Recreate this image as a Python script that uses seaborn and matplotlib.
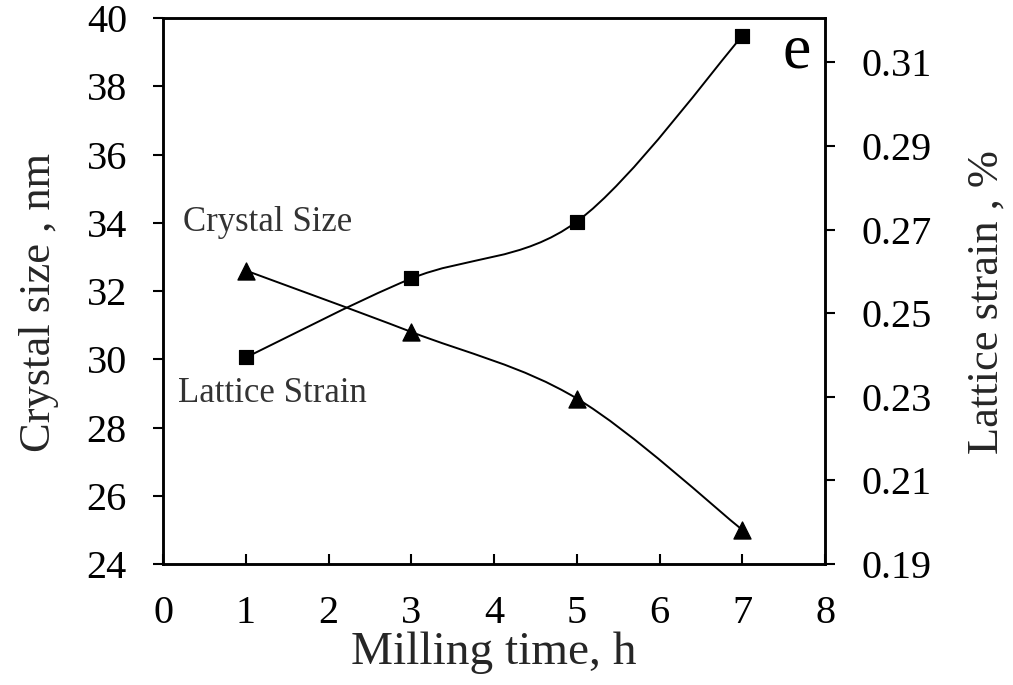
import numpy as np
import pandas as pd
import matplotlib
matplotlib.use("Agg")
import matplotlib.pyplot as plt
from matplotlib.path import Path
from matplotlib.patches import PathPatch
import seaborn as sns

# Milling time (h) and measured properties
milling_time = [1, 3, 5, 7]
crystal_size = [32.6, 30.8, 28.85, 25.0]          # nm, left axis
lattice_strain = [0.2394, 0.2583, 0.2719, 0.3163]  # %, right axis

x_ticks = [0, 1, 2, 3, 4, 5, 6, 7, 8]
left_ticks = [24, 26, 28, 30, 32, 34, 36, 38, 40]
right_ticks = [0.19, 0.21, 0.23, 0.25, 0.27, 0.29, 0.31]

sns.set_theme(style="white")
plt.rcParams["font.family"] = ["Liberation Serif", "DejaVu Serif"]

fig = plt.figure(figsize=(10.13, 6.85), dpi=100)
ax = fig.add_axes([0.161, 0.1766, 0.6535, 0.7971])
ax2 = ax.twinx()


def smooth_path(xs, ys):
    """Catmull-Rom style smoothed curve through the points as cubic Beziers."""
    pts = np.column_stack([xs, ys]).astype(float)
    n = len(pts)
    verts = [pts[0]]
    codes = [Path.MOVETO]
    for i in range(n - 1):
        p0 = pts[i - 1] if i > 0 else pts[i]
        p1 = pts[i]
        p2 = pts[i + 1]
        p3 = pts[i + 2] if i + 2 < n else pts[i + 1]
        c1 = p1 + (p2 - p0) / 6.0
        c2 = p2 - (p3 - p1) / 6.0
        verts += [c1, c2, p2]
        codes += [Path.CURVE4] * 3
    return Path(verts, codes)


df = pd.DataFrame({"time": milling_time, "size": crystal_size,
                   "strain": lattice_strain})

ax.add_patch(PathPatch(smooth_path(df["time"], df["size"]), fill=False,
                       edgecolor="black", lw=1.4, zorder=2))
sns.scatterplot(data=df, x="time", y="size", marker="^", s=150,
                color="black", edgecolor="black", ax=ax, zorder=3)

ax2.add_patch(PathPatch(smooth_path(df["time"], df["strain"]), fill=False,
                        edgecolor="black", lw=1.4, zorder=2))
sns.scatterplot(data=df, x="time", y="strain", marker="s", s=110,
                color="black", edgecolor="black", ax=ax2, zorder=3)

ax.set_xlim(0, 8)
ax.set_ylim(24, 40)
ax2.set_ylim(0.19, 0.3206)

ax.set_xticks(x_ticks)
ax.set_xticklabels([str(t) for t in x_ticks])
ax.set_yticks(left_ticks)
ax.set_yticklabels([str(t) for t in left_ticks])
ax2.set_yticks(right_ticks)
ax2.set_yticklabels([f"{t:.2f}" for t in right_ticks])

for a in (ax, ax2):
    for sp in a.spines.values():
        sp.set_visible(True)
        sp.set_color("black")
        sp.set_linewidth(1.8)

ax.tick_params(axis="x", direction="in", length=7, width=1.5, pad=22,
               labelsize=29, colors="black", bottom=True)
ax.tick_params(axis="y", direction="out", length=7, width=1.5, pad=19,
               labelsize=29, colors="black", left=True)
ax2.tick_params(axis="y", direction="out", length=7, width=1.5, pad=19,
                labelsize=29, colors="black", right=True)

ax.set_xlabel("Milling time, h", fontsize=34, labelpad=0)
ax.set_ylabel("Crystal size , nm", fontsize=32, labelpad=20)
ax2.set_ylabel("Lattice strain , %", fontsize=32, labelpad=25)
ax.yaxis.label.set_y(0.48)
ax2.yaxis.label.set_y(0.48)

ax.text(0.24, 34.0, "Crystal Size", fontsize=25, color="#333333",
        ha="left", va="center")
ax.text(0.18, 29.0, "Lattice Strain", fontsize=25, color="#333333",
        ha="left", va="center")
ax.text(7.66, 39.0, "e", fontsize=46, color="black", ha="center",
        va="center")

fig.savefig("out.png", dpi=100)
